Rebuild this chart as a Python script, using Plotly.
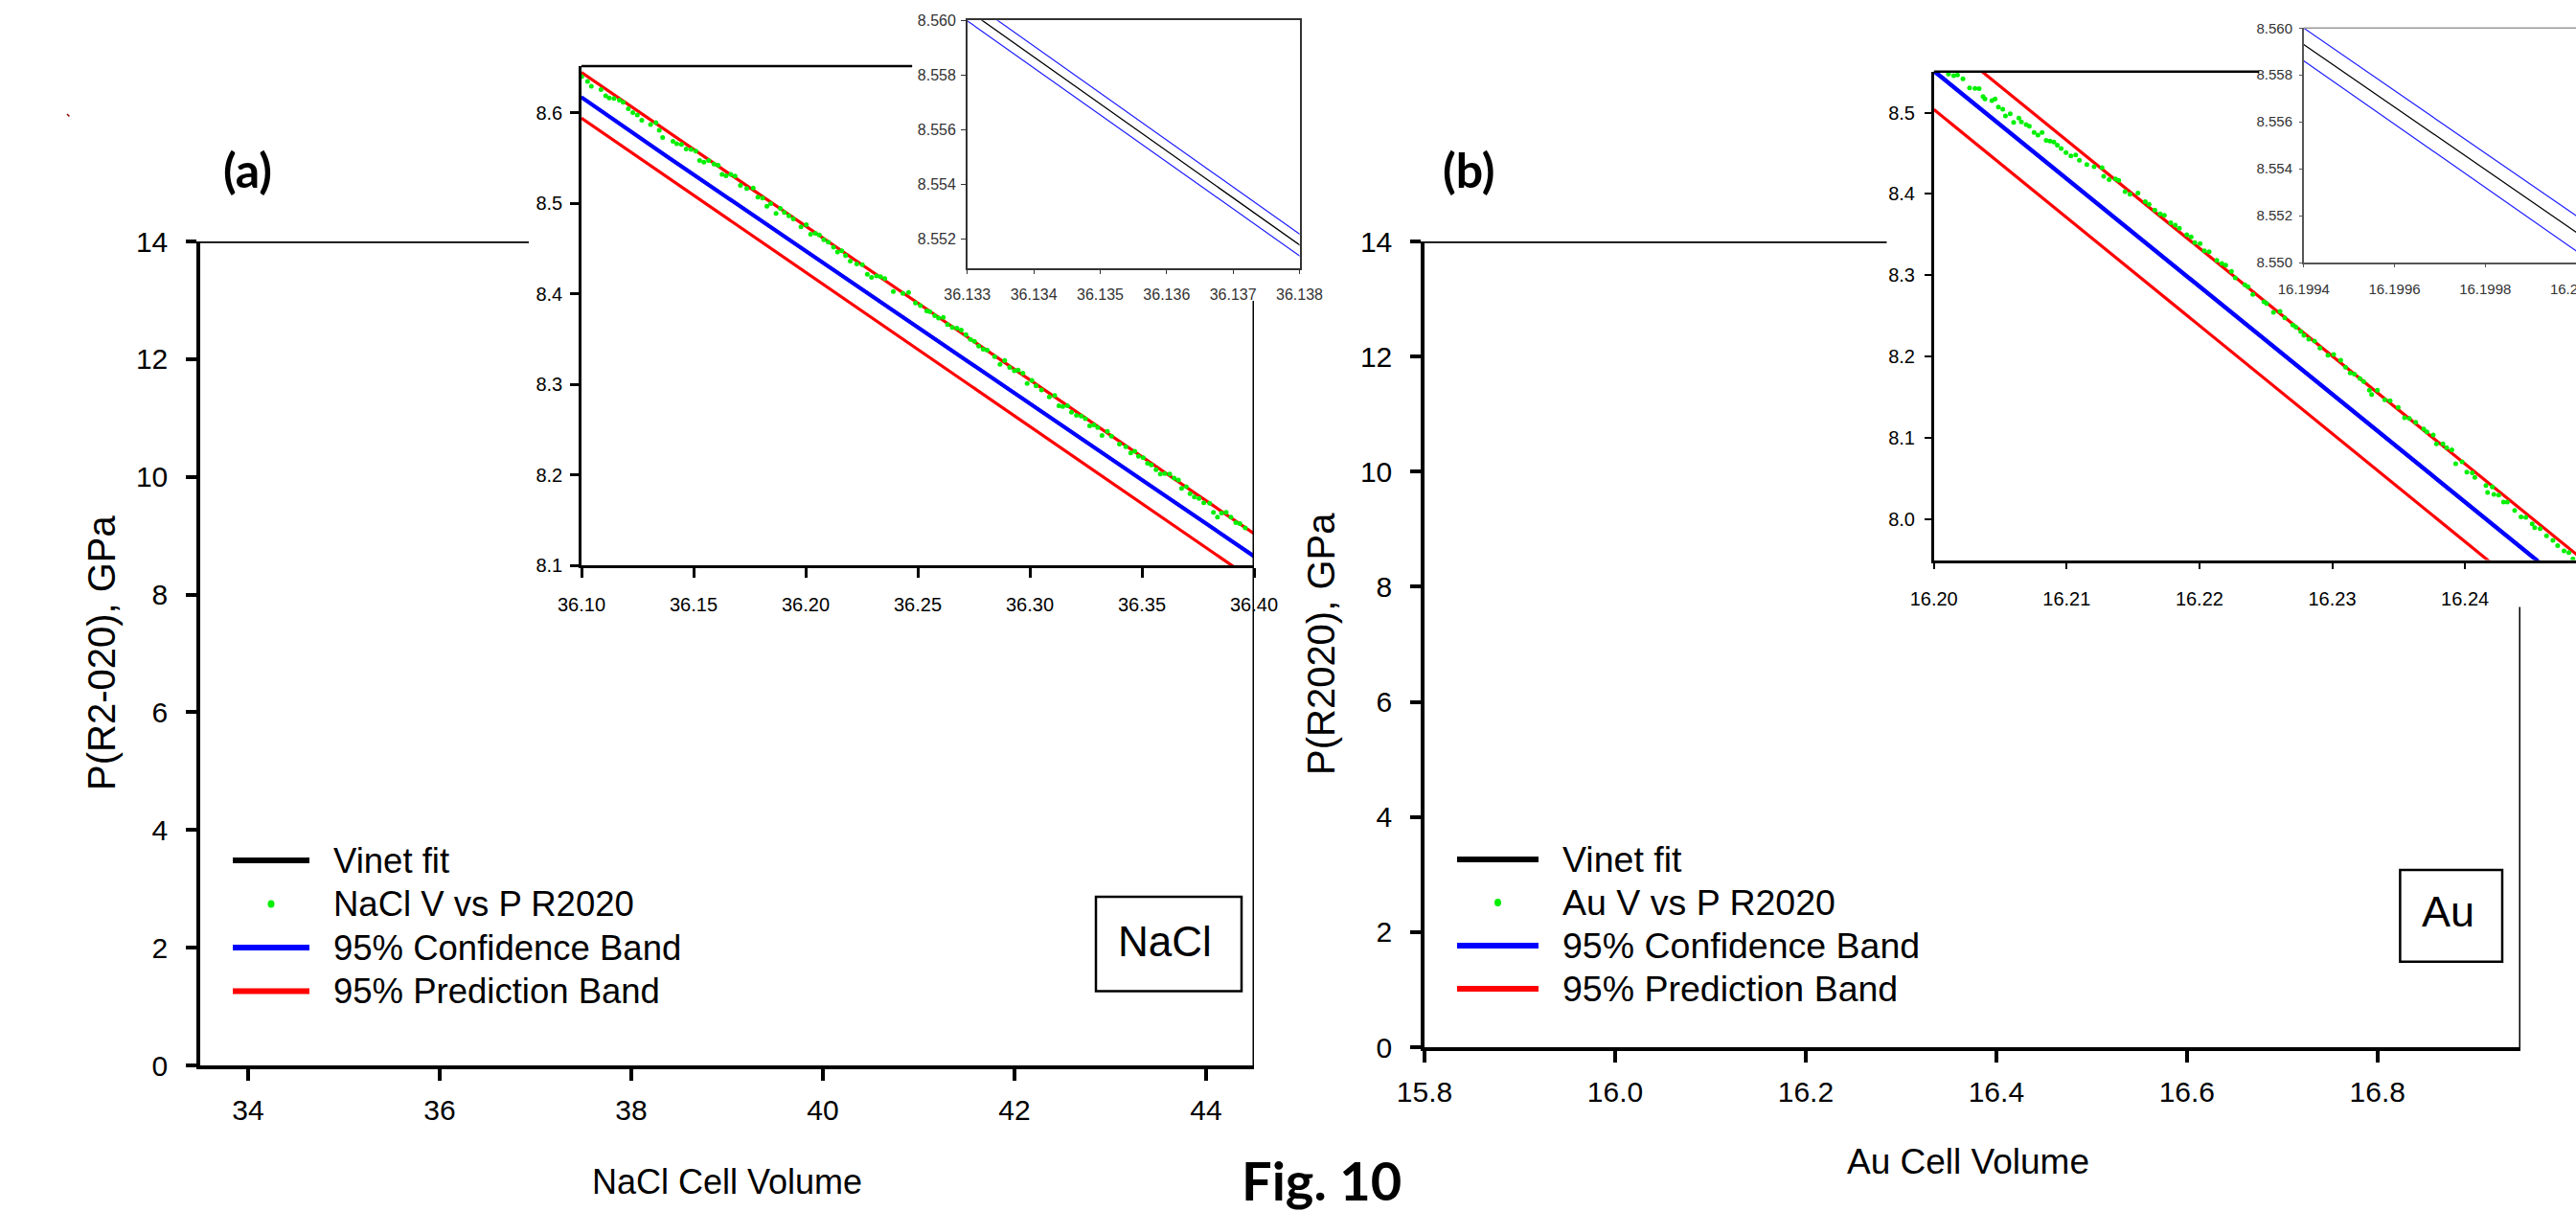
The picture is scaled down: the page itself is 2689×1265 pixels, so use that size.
import plotly.graph_objects as go

W, H = 2689, 1265

# ---------------- data : panel (a) NaCl ----------------
a_fit_V = [36.100, 36.133, 36.138, 36.400]
a_fit_P = [8.6170, 8.5604, 8.5518, 8.1100]
a_conf_hi_P = [8.6174, 8.5608, 8.5522, 8.1104]
a_conf_lo_P = [8.6166, 8.5600, 8.5514, 8.1096]
a_pred_V = [36.100, 36.400]
a_pred_hi_P = [8.6445, 8.1350]
a_pred_lo_P = [8.5940, 8.0830]
a_obs_V = [36.1001, 36.1027, 36.1044, 36.1087, 36.1108, 36.1124, 36.1145, 36.1169, 36.1186, 36.1209,
           36.1229, 36.1249, 36.1269, 36.1308, 36.1332, 36.1347, 36.1362, 36.1408, 36.1425, 36.1446,
           36.1467, 36.1489, 36.1510, 36.1527, 36.1546, 36.1567, 36.1591, 36.1610, 36.1627, 36.1645,
           36.1666, 36.1685, 36.1709, 36.1737, 36.1766, 36.1787, 36.1808, 36.1827, 36.1844, 36.1868,
           36.1887, 36.1905, 36.1925, 36.1945, 36.1979, 36.2003, 36.2022, 36.2043, 36.2061, 36.2081,
           36.2101, 36.2124, 36.2142, 36.2161, 36.2178, 36.2199, 36.2228, 36.2253, 36.2275, 36.2294,
           36.2316, 36.2334, 36.2353, 36.2391,
           36.2434, 36.2459, 36.2490, 36.2512, 36.2540, 36.2554, 36.2576, 36.2593, 36.2614, 36.2633,
           36.2654, 36.2675, 36.2694, 36.2715, 36.2735, 36.2753, 36.2772, 36.2792, 36.2810, 36.2843,
           36.2867, 36.2888, 36.2910, 36.2931, 36.2948, 36.2969, 36.2988, 36.3009, 36.3028, 36.3052,
           36.3087, 36.3111, 36.3130, 36.3147, 36.3168, 36.3186, 36.3208, 36.3229, 36.3248, 36.3267,
           36.3286, 36.3303, 36.3322, 36.3346, 36.3364, 36.3400, 36.3428, 36.3450, 36.3468, 36.3485,
           36.3506, 36.3525, 36.3542, 36.3563, 36.3582, 36.3602, 36.3624, 36.3644, 36.3663, 36.3677,
           36.3698, 36.3715, 36.3734, 36.3755, 36.3776, 36.3802, 36.3819, 36.3837, 36.3855, 36.3876,
           36.3897, 36.3919, 36.3937, 36.3961]
a_obs_P = [8.6397, 8.6344, 8.6291, 8.6256, 8.6185, 8.6161, 8.6157, 8.6139, 8.6115, 8.6044,
           8.6002, 8.5974, 8.5917, 8.5868, 8.5889, 8.5804, 8.5726, 8.5684, 8.5656, 8.5649,
           8.5599, 8.5592, 8.5574, 8.5472, 8.5454, 8.5472, 8.5433, 8.5419, 8.5317, 8.5303,
           8.5317, 8.5299, 8.5197, 8.5161, 8.5168, 8.5066, 8.5055, 8.4967, 8.4995, 8.4886,
           8.4942, 8.4897, 8.4861, 8.4826, 8.4738, 8.4762, 8.4656, 8.4667, 8.4649, 8.4596,
           8.4568, 8.4515, 8.4462, 8.4473, 8.4420, 8.4360, 8.4328, 8.4321, 8.4215, 8.4180,
           8.4197, 8.4187, 8.4166, 8.4024,
           8.4003, 8.4014, 8.3897, 8.3869, 8.3809, 8.3802, 8.3756, 8.3731, 8.3738, 8.3660,
           8.3627, 8.3619, 8.3598, 8.3549, 8.3496, 8.3475, 8.3422, 8.3386, 8.3376, 8.3305,
           8.3220, 8.3262, 8.3185, 8.3149, 8.3156, 8.3121, 8.3008, 8.3043, 8.2983, 8.2937,
           8.2860, 8.2877, 8.2761, 8.2754, 8.2761, 8.2690, 8.2656, 8.2648, 8.2620, 8.2539,
           8.2550, 8.2521, 8.2433, 8.2479, 8.2426, 8.2338, 8.2309, 8.2242, 8.2260, 8.2203,
           8.2189, 8.2126, 8.2108, 8.2055, 8.2009, 8.2013, 8.2009, 8.1963, 8.1942, 8.1850,
           8.1868, 8.1790, 8.1755, 8.1737, 8.1691, 8.1684, 8.1585, 8.1532, 8.1578, 8.1585,
           8.1532, 8.1472, 8.1461, 8.1412]

# ---------------- data : panel (b) Au ----------------
b_fit_V = [16.1994, 16.2000, 16.2500]
b_fit_P = [8.5593, 8.5513, 7.8888]
b_conf_hi_P = [8.5600, 8.5520, 7.8895]
b_conf_lo_P = [8.5586, 8.5505, 7.8881]
b_pred_V = [16.2000, 16.2500]
b_pred_hi_P = [8.5986, 7.9356]
b_pred_lo_P = [8.5038, 7.8398]
b_obs_V = [16.20110, 16.20149, 16.20178, 16.20219, 16.20269, 16.20310, 16.20341, 16.20370, 16.20385, 16.20437,
           16.20461, 16.20486, 16.20519, 16.20539, 16.20575, 16.20601, 16.20640, 16.20659, 16.20695, 16.20719,
           16.20755, 16.20784, 16.20815, 16.20846, 16.20875, 16.20904, 16.20930, 16.20959, 16.20995, 16.21032,
           16.21068, 16.21096, 16.21152, 16.21207, 16.21267, 16.21279, 16.21320, 16.21368, 16.21392, 16.21440,
           16.21477, 16.21537, 16.21592, 16.21621, 16.21664, 16.21705, 16.21736, 16.21784, 16.21818, 16.21849,
           16.21905, 16.21938, 16.21965, 16.22005, 16.22037, 16.22073, 16.22131, 16.22169, 16.22198, 16.22241,
           16.22270, 16.22342, 16.22366,
           16.22402, 16.22486, 16.22506, 16.22558, 16.22607, 16.22643, 16.22703, 16.22727, 16.22763, 16.22787,
           16.22823, 16.22867, 16.22908, 16.22968, 16.23011, 16.23064, 16.23100, 16.23136, 16.23167, 16.23208,
           16.23237, 16.23280, 16.23297, 16.23340, 16.23396, 16.23436, 16.23497, 16.23545, 16.23581, 16.23629,
           16.23689, 16.23713, 16.23761, 16.23785, 16.23834, 16.23862, 16.23901, 16.23930, 16.23978, 16.24014,
           16.24055, 16.24074, 16.24158, 16.24170, 16.24206, 16.24218, 16.24254, 16.24290, 16.24319, 16.24374,
           16.24422, 16.24458, 16.24506, 16.24525, 16.24566, 16.24614, 16.24662, 16.24698, 16.24746, 16.24782,
           16.24813]
b_obs_P = [8.5474, 8.5455, 8.5462, 8.5415, 8.5305, 8.5298, 8.5294, 8.5199, 8.5168, 8.5148,
           8.5168, 8.5070, 8.5042, 8.4960, 8.4987, 8.4881, 8.4932, 8.4885, 8.4854, 8.4834,
           8.4756, 8.4724, 8.4756, 8.4658, 8.4650, 8.4638, 8.4599, 8.4559, 8.4508, 8.4469,
           8.4481, 8.4414, 8.4363, 8.4336, 8.4324, 8.4218, 8.4175, 8.4186, 8.4167, 8.4029,
           8.3998, 8.4010, 8.3904, 8.3872, 8.3801, 8.3754, 8.3739, 8.3645, 8.3617, 8.3578,
           8.3499, 8.3472, 8.3401, 8.3389, 8.3303, 8.3291, 8.3185, 8.3146, 8.3126, 8.3048,
           8.2969, 8.2883, 8.2859,
           8.2765, 8.2675, 8.2655, 8.2545, 8.2557, 8.2478, 8.2388, 8.2361, 8.2310, 8.2263,
           8.2216, 8.2192, 8.2106, 8.2019, 8.2027, 8.1957, 8.1870, 8.1800, 8.1784, 8.1733,
           8.1693, 8.1587, 8.1536, 8.1587, 8.1469, 8.1457, 8.1375, 8.1249, 8.1241, 8.1194,
           8.1112, 8.1076, 8.1037, 8.0927, 8.0927, 8.0880, 8.0856, 8.0683, 8.0707, 8.0581,
           8.0573, 8.0515, 8.0416, 8.0330, 8.0397, 8.0306, 8.0298, 8.0212, 8.0212, 8.0110,
           8.0031, 8.0024, 7.9945, 7.9898, 7.9886, 7.9796, 7.9741, 7.9678, 7.9611, 7.9592,
           7.9513]

# ---------------- text ----------------
a_legend = ["Vinet fit", "NaCl V vs P R2020", "95% Confidence Band", "95% Prediction Band"]
b_legend = ["Vinet fit", "Au V vs P R2020", "95% Confidence Band", "95% Prediction Band"]
a_xtitle, a_ytitle, a_tag, a_box = "NaCl Cell Volume", "P(R2-020), GPa", "(a)", "NaCl"
b_xtitle, b_ytitle, b_tag, b_box = "Au Cell Volume", "P(R2020), GPa", "(b)", "Au"
fig_title = "Fig. 10"

# ---------------- helpers (layout positions in pixels -> paper) ----------------
def fx(p):
    return p / W

def fy(p):
    return 1 - p / H

FONT = "Liberation Sans, Arial, sans-serif"
BOLD = "Lato, Liberation Sans, sans-serif"
GREEN = "#00f000"
RED = "#ff0000"
BLUE = "#0000ff"

fig = go.Figure()

def line(x, y, ax, color, width):
    fig.add_trace(go.Scatter(x=x, y=y, mode="lines", xaxis=ax[0], yaxis=ax[1],
                             line=dict(color=color, width=width), showlegend=False,
                             hoverinfo="skip"))

def pts(x, y, ax):
    fig.add_trace(go.Scatter(x=x, y=y, mode="markers", xaxis=ax[0], yaxis=ax[1],
                             marker=dict(color=GREEN, size=5), showlegend=False))

# main (a) - empty
fig.add_trace(go.Scatter(x=[None], y=[None], xaxis="x", yaxis="y", showlegend=False))
# inset (a)
A2 = ("x2", "y2")
line(a_fit_V, a_fit_P, A2, "black", 3)
line(a_fit_V, a_conf_hi_P, A2, BLUE, 3.5)
line(a_fit_V, a_conf_lo_P, A2, BLUE, 3.5)
line(a_pred_V, a_pred_hi_P, A2, RED, 3.2)
line(a_pred_V, a_pred_lo_P, A2, RED, 3.2)
pts(a_obs_V, a_obs_P, A2)
# small inset (a)
A3 = ("x3", "y3")
line(a_fit_V, a_fit_P, A3, "black", 1.3)
line(a_fit_V, a_conf_hi_P, A3, "#2020ff", 1.2)
line(a_fit_V, a_conf_lo_P, A3, "#2020ff", 1.2)

# main (b) - empty
fig.add_trace(go.Scatter(x=[None], y=[None], xaxis="x4", yaxis="y4", showlegend=False))
B5 = ("x5", "y5")
line(b_fit_V, b_fit_P, B5, "black", 3)
line(b_fit_V, b_conf_hi_P, B5, BLUE, 3.5)
line(b_fit_V, b_conf_lo_P, B5, BLUE, 3.5)
line(b_pred_V, b_pred_hi_P, B5, RED, 3.2)
line(b_pred_V, b_pred_lo_P, B5, RED, 3.2)
pts(b_obs_V, b_obs_P, B5)
B6 = ("x6", "y6")
line(b_fit_V, b_fit_P, B6, "black", 1.3)
line(b_fit_V, b_conf_hi_P, B6, "#2020ff", 1.2)
line(b_fit_V, b_conf_lo_P, B6, "#2020ff", 1.2)


def axis(domain, rng, anchor, size, ticklen, tickwidth, linewidth, standoff, fmt=None,
         dtick=None, tick0=None, color="black", fcolor="black", mirror=False, **kw):
    d = dict(domain=domain, range=rng, anchor=anchor, showgrid=False, zeroline=False,
             automargin=False, fixedrange=True,
             showline=True, linecolor=color, linewidth=linewidth, ticks="outside",
             ticklen=ticklen, tickwidth=tickwidth, tickcolor=color, mirror=mirror,
             tickfont=dict(family=FONT, size=size, color=fcolor), ticklabelstandoff=standoff)
    if fmt:
        d["tickformat"] = fmt
    if dtick is not None:
        d["dtick"] = dtick
    if tick0 is not None:
        d["tick0"] = tick0
    d.update(kw)
    return d


layout = dict(
    width=W, height=H, autosize=False, margin=dict(l=0, r=0, t=0, b=0, pad=0, autoexpand=False),
    paper_bgcolor="white", plot_bgcolor="rgba(0,0,0,0)", showlegend=False,
    # main (a)
    xaxis=axis([fx(209), fx(1309)], [33.5, 44.5], "y", 30, 12, 3.5, 3.5, 5, dtick=2, tick0=0),
    yaxis=axis([fy(1112), fy(252)], [0, 14], "x", 30, 11, 3.5, 3.5, 13, dtick=2, tick0=0),
    # inset (a)
    xaxis2=axis([fx(607), fx(1309)], [36.10, 36.40], "y2", 20, 10, 2.5, 2.5, 11, ".2f", 0.05, 36.1),
    yaxis2=axis([fy(590), fy(69)], [8.1, 8.6514], "x2", 20, 9, 2.5, 2.5, 4, ".1f", 0.1, 8.1),
    # small inset (a)
    xaxis3=axis([fx(1009.8), fx(1356.5)], [36.133, 36.138], "y3", 16, 5, 1, 1.5, 7, ".3f", 0.001, 36.133,
                color="#333333", fcolor="#333333", mirror=True),
    yaxis3=axis([fy(279.6), fy(21.2)], [8.55096, 8.5600], "x3", 16, 5, 1, 1.5, 2, ".3f", 0.002, 8.552,
                color="#333333", fcolor="#333333", mirror=True),
    # main (b)
    xaxis4=axis([fx(1487), fx(2631)], [15.8, 16.95], "y4", 30, 12, 3.5, 3.5, 5, ".1f", 0.2, 15.8),
    yaxis4=axis([fy(1093), fy(252)], [0, 14], "x4", 30, 11, 3.5, 3.5, 13, dtick=2, tick0=0),
    # inset (b)
    xaxis5=axis([fx(2018.7), 1.0], [16.20, 16.24836], "y5", 20, 7, 2, 2.5, 14, ".2f", 0.01, 16.2),
    yaxis5=axis([fy(584.5), fy(74.7)], [7.95, 8.5505], "x5", 20, 7, 2, 2.5, 6, ".1f", 0.1, 8.0),
    # small inset (b)
    xaxis6=axis([fx(2404.8), 1.0], [16.1994, 16.2000], "y6", 15, 3, 1, 1.5, 10, ".4f", 0.0002, 16.1994,
                color="#555555", fcolor="#333333", ticklabeloverflow="allow"),
    yaxis6=axis([fy(274), fy(29.3)], [8.550, 8.560], "x6", 15, 3, 1, 1.5, 4, ".3f", 0.002, 8.550,
                color="#555555", fcolor="#333333"),
)
fig.update_layout(**layout)

shapes = []
def seg(x0, y0, x1, y1, xref, yref, color="black", width=3.5):
    shapes.append(dict(type="line", x0=x0, y0=y0, x1=x1, y1=y1, xref=xref, yref=yref,
                       line=dict(color=color, width=width), layer="above"))

# frame pieces of the main plots and the insets
seg(33.5, 14, 36.93, 14, "x", "y")
seg(44.5, 0, 44.5, 12.99, "x", "y", width=3)
seg(15.8, 14, 16.285, 14, "x4", "y4")
seg(16.95, 0, 16.95, 7.65, "x4", "y4", width=3)
seg(36.10, 1, 36.2475, 1, "x2", "y2 domain", width=2.5)
seg(16.20, 1, 16.2245, 1, "x5", "y5 domain", width=2.5)
seg(16.1994, 1, 16.2000, 1, "x6", "y6 domain", color="#999999", width=1.5)
# tiny mark at upper-left
seg(fx(70), fy(119), fx(72.5), fy(121.5), "paper", "paper", color="#8b0000", width=1.5)

annotations = []
def text(x, y, s, size, family=FONT, xanchor="center", angle=0, color="black"):
    annotations.append(dict(x=fx(x), y=fy(y), xref="paper", yref="paper", text=s,
                            showarrow=False, xanchor=xanchor, yanchor="middle",
                            textangle=angle, font=dict(family=family, size=size, color=color)))

# manual legends
def legend(labels, rows, lx0, lx1, tx, size):
    colors = ["black", None, BLUE, RED]
    for lab, ry, c in zip(labels, rows, colors):
        if c is None:
            cx = (lx0 + lx1) / 2
            shapes.append(dict(type="circle", xref="paper", yref="paper",
                               x0=fx(cx - 3.5), x1=fx(cx + 3.5), y0=fy(ry + 4), y1=fy(ry - 4),
                               fillcolor=GREEN, line=dict(width=0), layer="above"))
        else:
            seg(fx(lx0), fy(ry), fx(lx1), fy(ry), "paper", "paper", color=c, width=6)
        text(tx, ry, lab, size, xanchor="left")

legend(a_legend, [898.0, 943.5, 989.0, 1034.5], 243, 323, 346, 36.5)
legend(b_legend, [897.0, 942.0, 987.0, 1032.0], 1521, 1606, 1629, 37.5)

# boxes with material names
for (x0, y0, x1, y1) in [(1144, 936, 1296, 1034.6), (2505.4, 908, 2612, 1003.8)]:
    shapes.append(dict(type="rect", xref="paper", yref="paper", x0=fx(x0), x1=fx(x1),
                       y0=fy(y1), y1=fy(y0), line=dict(color="black", width=2.5), layer="above"))
text(1216, 982, a_box, 44)
text(2555, 951, b_box, 45)

# axis titles
text(759, 1233, a_xtitle, 36)
text(2054, 1212, b_xtitle, 37)
text(106, 681, a_ytitle, 40, angle=-90)
text(1379, 672, b_ytitle, 40, angle=-90)

# panel tags and figure caption
text(258, 177, a_tag, 50, family=BOLD)
text(1533, 177, b_tag, 50, family=BOLD)
text(1379, 1231, fig_title, 56, family=BOLD)

for a in annotations:
    if a["font"]["family"] == BOLD:
        a["text"] = "<b>" + a["text"] + "</b>"

fig.update_layout(shapes=shapes, annotations=annotations)
fig.write_html("out.html", config={"responsive": False, "displayModeBar": False},
               post_script="document.body.style.margin='0px';document.body.style.overflow='hidden';")
